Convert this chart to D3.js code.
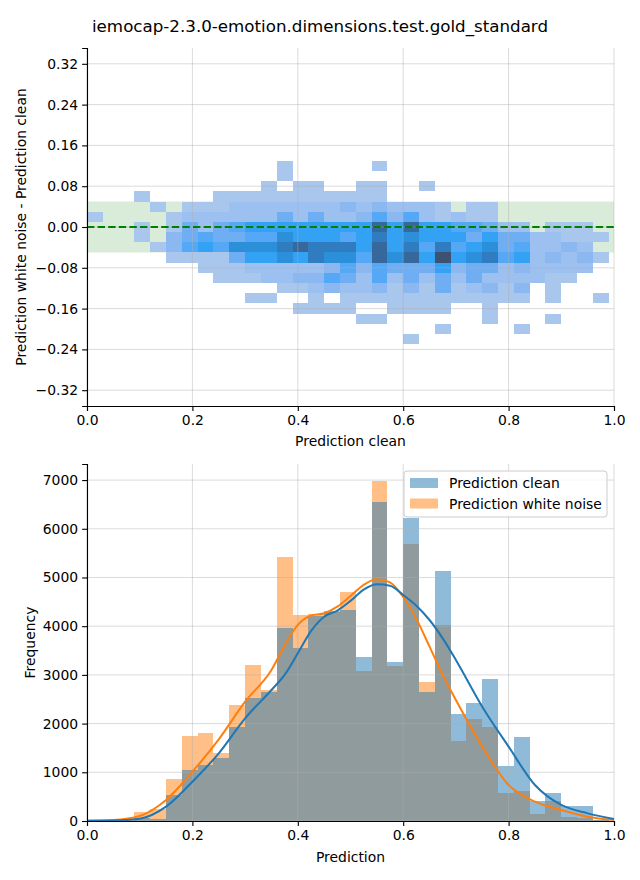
<!DOCTYPE html>
<html><head><meta charset="utf-8">
<script src="https://cdn.jsdelivr.net/npm/d3@7"></script>
<style>
html,body{margin:0;padding:0;background:#fff;}
svg{display:block;font-family:"DejaVu Sans",sans-serif;}
</style></head>
<body><svg id="chart" width="640" height="880"></svg>
<script>
// ---------- DATA ----------
const title = "iemocap-2.3.0-emotion.dimensions.test.gold_standard";
const binWidth = 0.03;            // width of x bins (both plots)
const diffBinHeight = 0.02;       // height of y bins (top plot)
const diffRowCenters = [0.12,0.10,0.08,0.06,0.04,0.02,0.00,-0.02,-0.04,-0.06,-0.08,-0.10,-0.12,-0.14,-0.16,-0.18,-0.20,-0.22];
// relative counts (1 = few … 10 = many) per cell, rows = diffRowCenters, cols = x bins
const heatCounts = [
[0,0,0,0,0,0,0,0,0,0,0,0,1,0,0,0,0,0,1,0,0,0,0,0,0,0,0,0,0,0,0,0,0],
[0,0,0,0,0,0,0,0,0,0,0,0,1,0,0,0,0,0,0,0,0,0,0,0,0,0,0,0,0,0,0,0,0],
[0,0,0,0,0,0,0,0,0,0,0,1,0,1,1,0,0,1,1,0,0,1,0,0,0,0,0,0,0,0,0,0,0],
[0,0,0,1,0,0,0,0,1,1,1,1,1,1,1,1,1,1,1,0,0,0,0,0,0,0,0,0,0,0,0,0,0],
[0,0,0,0,1,0,1,1,1,2,2,2,2,2,2,2,3,2,3,2,2,2,1,0,1,1,0,0,0,0,0,0,0],
[1,0,0,0,0,1,2,2,2,2,2,2,4,2,4,2,2,3,5,3,5,2,1,2,1,1,0,0,0,0,0,0,0],
[0,0,0,1,0,1,4,2,4,5,6,6,6,6,6,6,6,6,9,6,9,6,6,5,5,4,2,2,0,1,1,1,0],
[0,0,0,1,0,3,4,5,4,4,5,5,7,6,6,6,5,6,8,6,7,6,6,6,4,6,4,4,2,2,1,1,1],
[0,0,0,0,1,3,5,6,5,7,7,7,8,9,8,8,8,6,9,6,8,5,8,5,6,7,4,5,2,2,3,2,0],
[0,0,0,0,0,1,1,1,1,4,6,6,7,6,8,7,7,5,9,7,9,6,10,6,7,8,5,6,2,3,2,3,1],
[0,0,0,0,0,0,0,1,1,1,2,2,2,2,2,3,5,3,5,4,4,4,6,3,4,4,2,3,2,2,2,2,0],
[0,0,0,0,0,0,0,0,1,1,1,2,2,3,3,5,4,2,5,2,4,2,4,2,4,2,2,2,2,1,1,0,0],
[0,0,0,0,0,0,0,0,0,0,0,0,1,1,2,3,2,2,3,1,3,1,4,1,2,3,1,3,0,1,0,0,0],
[0,0,0,0,0,0,0,0,0,0,1,1,0,0,1,0,1,1,1,1,1,1,1,1,1,1,1,1,0,1,0,0,1],
[0,0,0,0,0,0,0,0,0,0,0,0,0,1,1,1,1,0,0,1,1,1,1,0,0,1,0,0,0,0,0,0,0],
[0,0,0,0,0,0,0,0,0,0,0,0,0,0,0,0,0,1,1,0,0,0,0,0,0,1,0,0,0,1,0,0,0],
[0,0,0,0,0,0,0,0,0,0,0,0,0,0,0,0,0,0,0,0,0,0,1,0,0,0,0,1,0,0,0,0,0],
[0,0,0,0,0,0,0,0,0,0,0,0,0,0,0,0,0,0,0,0,1,0,0,0,0,0,0,0,0,0,0,0,0]
];
const toleranceBand = 0.05;
const diffTicks = [-0.32,-0.24,-0.16,-0.08,0.00,0.08,0.16,0.24,0.32];
const xTicks = [0.0,0.2,0.4,0.6,0.8,1.0];

// histogram counts per x bin (0.00-0.03, 0.03-0.06, ... 0.96-0.99)
const histClean = [0,0,10,60,40,540,1047,1150,1300,1937,2533,2640,3970,3558,4200,4310,4333,3368,6550,3270,6220,2655,5130,2197,2420,2915,1130,1725,410,580,308,308,30];
const histNoise = [0,0,15,190,245,862,1745,1800,1390,2382,3203,2690,5421,4230,4250,4300,4702,3080,6980,3180,5690,2860,4025,1643,2090,1937,568,616,150,410,90,60,20];
// density curves (scaled to counts)
const kdeX     = [0,0.05,0.1,0.15,0.2,0.25,0.3,0.35,0.375,0.4,0.425,0.45,0.475,0.5,0.525,0.55,0.575,0.6,0.625,0.65,0.675,0.7,0.75,0.8,0.85,0.9,0.95,1.0];
const kdeClean = [6,10,47,294,807,1390,2108,2690,3000,3443,3900,4195,4320,4520,4750,4860,4830,4640,4420,4127,3750,3306,2347,1526,739,329,157,41];
const kdeNoise = [5,20,103,431,1013,1677,2450,3100,3600,4025,4220,4265,4400,4620,4850,4965,4900,4600,4150,3580,3000,2485,1526,739,397,226,89,20];
const freqTicks = [0,1000,2000,3000,4000,5000,6000,7000];
const seriesNames = ["Prediction clean","Prediction white noise"];

// ---------- DRAW ----------
const svg = d3.select("#chart");
const FS = 13.9;
const blue = "#1f77b4", orange = "#ff7f0e";
const fmtMinus = s => s.replace("-", "\u2212");

svg.append("text").attr("x", 320).attr("y", 32).attr("text-anchor","middle")
  .attr("font-size", 16.7).attr("fill","#000").text(title);

// ===== Top plot =====
const L = 87, R = 614;
const T1 = 48, B1 = 406;
const x1 = d3.scaleLinear().domain([0,1]).range([L,R]);
const y1 = d3.scaleLinear().domain([-0.351,0.351]).range([B1,T1]);
const g1 = svg.append("g");

// tolerance band
g1.append("rect").attr("x", x1(0)).attr("width", x1(1)-x1(0))
  .attr("y", y1(toleranceBand)).attr("height", y1(-toleranceBand)-y1(toleranceBand))
  .attr("fill","green").attr("fill-opacity",0.15);

const heatColor = d3.scaleLinear()
  .domain([1,2,3,4,5,6,7,8,9,10])
  .range(["#a9c6ec","#9cc0ef","#8bb8f1","#70aef3","#55a8f5","#33a1f4","#2b8fd9","#2f7cc0","#37689c","#3d5270"]);
const cells = [];
heatCounts.forEach((row, r) => row.forEach((v, c) => {
  if (v > 0) cells.push({x0: c*binWidth, x1: (c+1)*binWidth, yc: diffRowCenters[r], v});
}));
g1.selectAll("rect.cell").data(cells).enter().append("rect").attr("class","cell")
  .attr("x", d => x1(d.x0)).attr("width", d => x1(d.x1)-x1(d.x0))
  .attr("y", d => y1(d.yc + diffBinHeight/2)).attr("height", d => y1(d.yc - diffBinHeight/2) - y1(d.yc + diffBinHeight/2))
  .attr("fill", d => heatColor(d.v)).attr("shape-rendering","crispEdges");

// grid
g1.selectAll("line.gx").data(xTicks).enter().append("line")
  .attr("x1", d=>x1(d)).attr("x2", d=>x1(d)).attr("y1",T1).attr("y2",B1)
  .attr("stroke","#b0b0b0").attr("stroke-opacity",0.45).attr("stroke-width",1);
g1.selectAll("line.gy").data(diffTicks).enter().append("line")
  .attr("y1", d=>y1(d)).attr("y2", d=>y1(d)).attr("x1",L).attr("x2",R)
  .attr("stroke","#b0b0b0").attr("stroke-opacity",0.45).attr("stroke-width",1);

// zero line
g1.append("line").attr("x1",x1(0)).attr("x2",x1(1)).attr("y1",y1(0)).attr("y2",y1(0))
  .attr("stroke","green").attr("stroke-width",2).attr("stroke-dasharray","7.4,3.2");

// axes
const ax1 = g1.append("g").attr("transform",`translate(0,${B1})`)
  .call(d3.axisBottom(x1).tickValues(xTicks).tickFormat(d3.format(".1f")).tickSizeOuter(0).tickSize(4.9).tickPadding(4));
const ay1 = g1.append("g").attr("transform",`translate(${L},0)`)
  .call(d3.axisLeft(y1).tickValues(diffTicks).tickFormat(d => fmtMinus(d3.format(".2f")(d))).tickSizeOuter(0).tickSize(4.9).tickPadding(4));
[ax1, ay1].forEach(a => {
  a.selectAll("text").attr("font-size",FS).attr("font-family","DejaVu Sans").attr("fill","#000");
  a.selectAll("line").attr("stroke","#000").attr("stroke-width",1.1);
  a.select(".domain").attr("stroke","#000").attr("stroke-width",1.1);
});
svg.append("text").attr("x",(L+R)/2).attr("y",446).attr("text-anchor","middle").attr("font-size",FS).text("Prediction clean");
svg.append("text").attr("transform",`translate(26,${(T1+B1)/2}) rotate(-90)`).attr("text-anchor","middle").attr("font-size",FS)
  .text("Prediction white noise - Prediction clean");

// ===== Bottom plot =====
const T2 = 464, B2 = 821;
const x2 = d3.scaleLinear().domain([0,1]).range([L,R]);
const y2 = d3.scaleLinear().domain([0,7330]).range([B2,T2]);
const g2 = svg.append("g");

const drawHist = (vals, color) => {
  g2.append("g").selectAll("rect").data(vals).enter().append("rect")
    .attr("x",(d,i)=>x2(i*binWidth)).attr("width",(d,i)=>x2((i+1)*binWidth)-x2(i*binWidth))
    .attr("y",d=>y2(d)).attr("height",d=>y2(0)-y2(d))
    .attr("fill",color).attr("fill-opacity",0.5).attr("shape-rendering","crispEdges");
};
drawHist(histNoise, orange);
drawHist(histClean, blue);

g2.selectAll("line.gx").data(xTicks).enter().append("line")
  .attr("x1", d=>x2(d)).attr("x2", d=>x2(d)).attr("y1",T2).attr("y2",B2)
  .attr("stroke","#b0b0b0").attr("stroke-opacity",0.45).attr("stroke-width",1);
g2.selectAll("line.gy").data(freqTicks).enter().append("line")
  .attr("y1", d=>y2(d)).attr("y2", d=>y2(d)).attr("x1",L).attr("x2",R)
  .attr("stroke","#b0b0b0").attr("stroke-opacity",0.45).attr("stroke-width",1);

const line = vals => d3.line().x((d,i)=>x2(kdeX[i])).y(d=>y2(d)).curve(d3.curveMonotoneX)(vals);
g2.append("path").attr("d", line(kdeNoise)).attr("fill","none").attr("stroke",orange).attr("stroke-width",2);
g2.append("path").attr("d", line(kdeClean)).attr("fill","none").attr("stroke",blue).attr("stroke-width",2);

const ax2 = g2.append("g").attr("transform",`translate(0,${B2})`)
  .call(d3.axisBottom(x2).tickValues(xTicks).tickFormat(d3.format(".1f")).tickSizeOuter(0).tickSize(4.9).tickPadding(4));
const ay2 = g2.append("g").attr("transform",`translate(${L},0)`)
  .call(d3.axisLeft(y2).tickValues(freqTicks).tickFormat(d3.format("d")).tickSizeOuter(0).tickSize(4.9).tickPadding(4));
[ax2, ay2].forEach(a => {
  a.selectAll("text").attr("font-size",FS).attr("font-family","DejaVu Sans").attr("fill","#000");
  a.selectAll("line").attr("stroke","#000").attr("stroke-width",1.1);
  a.select(".domain").attr("stroke","#000").attr("stroke-width",1.1);
});
svg.append("text").attr("x",(L+R)/2).attr("y",862).attr("text-anchor","middle").attr("font-size",FS).text("Prediction");
svg.append("text").attr("transform",`translate(35,${(T2+B2)/2}) rotate(-90)`).attr("text-anchor","middle").attr("font-size",FS)
  .text("Frequency");

// legend
const lg = svg.append("g").attr("transform","translate(404,471)");
lg.append("rect").attr("width",203).attr("height",46).attr("rx",3)
  .attr("fill","#fff").attr("fill-opacity",0.8).attr("stroke","#cccccc").attr("stroke-width",1);
[blue, orange].forEach((c,i) => {
  lg.append("rect").attr("x",6).attr("y",7+i*20.5).attr("width",28).attr("height",10)
    .attr("fill",c).attr("fill-opacity",0.5);
  lg.append("text").attr("x",45).attr("y",17+i*20.5).attr("font-size",FS).text(seriesNames[i]);
});
</script></body></html>
